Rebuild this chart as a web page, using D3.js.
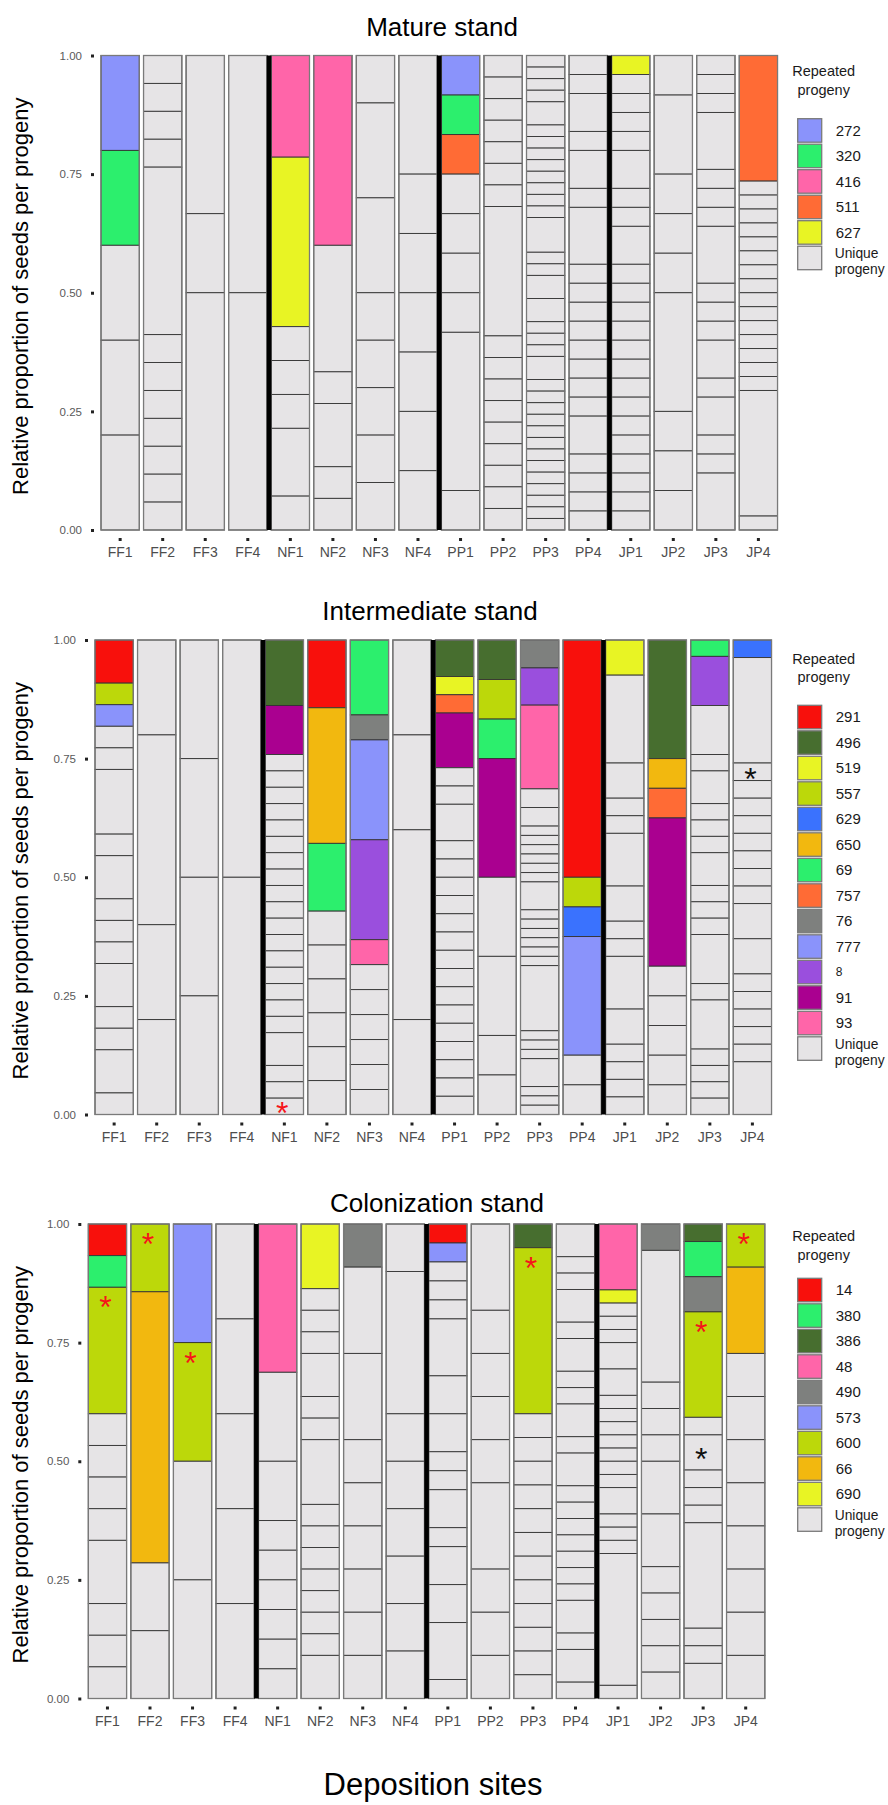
<!DOCTYPE html>
<html>
<head>
<meta charset="utf-8">
<script src="https://cdn.jsdelivr.net/npm/d3@7"></script>
<style>
  body { margin: 0; background: #fff; }
  svg text { font-family: "Liberation Sans", Arial, sans-serif; }
</style>
</head>
<body>
<div id="chart"></div>
<script>
// Deposition sites (x categories)
var sites = ["FF1","FF2","FF3","FF4","NF1","NF2","NF3","NF4","PP1","PP2","PP3","PP4","JP1","JP2","JP3","JP4"];
// first site of each forest type, a black bar is drawn before it
var groupStarts = ["NF1","PP1","JP1"];
var yTicks = [0, 0.25, 0.5, 0.75, 1];
var uniqueLabel = "Unique";
var uniqueFill = "#e6e4e6";

// ---- Mature stand ----
var matureKeys = ["272","320","416","511","627"];
var matureColors = ["#8a93fb","#2cef6d","#ff65a9","#ff6b35","#e8f424"];
// [site, progeny, seeds], top to bottom
var matureRepeated = [
  ["FF1","272",1],["FF1","320",1],
  ["NF1","416",3],["NF1","627",5],
  ["NF2","416",6],
  ["PP1","272",1],["PP1","320",1],["PP1","511",1],
  ["JP1","627",1],
  ["JP4","511",9]
];
// unique progeny blocks per site, top to bottom (seeds)
var matureUnique = [
  [1,1,1],
  [1,1,1,1,6,1,1,1,1,1,1,1],
  [2,1,3],
  [1,1],
  [1,1,1,2,1],
  [4,1,2,1,1],
  [1,2,2,1,1,1,1,1],
  [2,1,1,1,1,1,1],
  [1,1,1,1,4,1],
  [1,1,1,1,1,1,1,6,1,1,1,1,1,1,1,1,1],
  [1,1,1,1,2,1,1,1,1,1,1,1,1,3,1,1,2,2,1,1,1,2,1,1,1,1,1,1,1,1,1,1,1,1,1],
  [1,1,2,1,2,1,3,1,1,1,1,1,1,1,1,2,1,1,1,1],
  [1,1,1,1,2,1,1,2,1,1,1,1,1,1,1,1,1,1,1,1,1,1],
  [1,2,1,1,1,3,1,1,1],
  [1,1,1,3,1,1,1,3,1,1,1,2,1,2,1,1,3],
  [1,1,1,1,1,1,1,1,1,1,1,1,1,1,1,9,1]
];

// ---- Intermediate stand ----
var interKeys = ["291","496","519","557","629","650","69","757","76","777","8","91","93"];
var interColors = ["#f8100c","#476e2f","#e8f424","#bcd80a","#3a72fe","#f2b80f","#2cef6d","#ff6b35","#7e807e","#8a93fb","#9a4fdd","#aa0090","#ff65a9"];
var interRepeated = [
  ["FF1","291",2],["FF1","557",1],["FF1","777",1],
  ["NF1","496",4],["NF1","91",3],
  ["NF2","291",2],["NF2","650",4],["NF2","69",2],
  ["NF3","69",3],["NF3","76",1],["NF3","777",4],["NF3","8",4],["NF3","93",1],
  ["PP1","496",2],["PP1","519",1],["PP1","757",1],["PP1","91",3],
  ["PP2","496",1],["PP2","557",1],["PP2","69",1],["PP2","91",3],
  ["PP3","76",3],["PP3","8",4],["PP3","93",9],
  ["PP4","291",8],["PP4","557",1],["PP4","629",1],["PP4","777",4],
  ["JP1","519",2],
  ["JP2","496",4],["JP2","650",1],["JP2","757",1],["JP2","91",5],
  ["JP3","69",1],["JP3","8",3],
  ["JP4","629",1]
];
var interUnique = [
  [1,1,3,1,2,1,1,1,2,1,1,2,1],
  [1,2,1,1],
  [1,1,1,1],
  [1,1],
  [1,1,1,1,1,1,1,1,1,1,1,1,1,1,1,1,1,2,1,1,1],
  [1,1,1,1,1,1],
  [1,1,1,1,1,1],
  [1,1,2,1],
  [1,1,2,1,1,1,1,1,1,1,1,1,1,1,1,1,1,1],
  [2,2,1,1],
  [2,2,1,1,1,1,1,1,3,1,1,1,1,1,1,7,1,1,1,3,1,1,1],
  [1,1],
  [5,2,1,1,3,2,1,1,3,2,1,1,1,1],
  [1,1,1,1,1],
  [3,1,2,1,1,1,2,1,1,1,3,1,3,1,1,1,1],
  [6,1,1,1,1,1,1,1,1,2,2,1,1,1,1,1,3]
];

// ---- Colonization stand ----
var colonKeys = ["14","380","386","48","490","573","600","66","690"];
var colonColors = ["#f8100c","#2cef6d","#476e2f","#ff65a9","#7e807e","#8a93fb","#bcd80a","#f2b80f","#e8f424"];
var colonRepeated = [
  ["FF1","14",1],["FF1","380",1],["FF1","600",4],
  ["FF2","600",1],["FF2","66",4],
  ["FF3","573",1],["FF3","600",1],
  ["NF1","48",5],
  ["NF2","690",3],
  ["NF3","490",1],
  ["PP1","14",1],["PP1","573",1],
  ["PP3","386",1],["PP3","600",7],
  ["JP1","48",5],["JP1","690",1],
  ["JP2","490",1],
  ["JP3","386",1],["JP3","380",2],["JP3","490",2],["JP3","600",6],
  ["JP4","600",1],["JP4","66",2]
];
var colonUnique = [
  [1,1,1,1,2,1,1,1],
  [1,1],
  [1,1],
  [1,1,1,1,1],
  [3,2,1,1,1,1,1,1],
  [1,1,1,2,1,1,3,1,1,1,1,1,1,1,2],
  [2,2,1,1,1,1,1,1],
  [1,3,1,1,1,1,1,1],
  [1,1,1,3,2,2,1,1,2,1,2,2,3,1],
  [2,1,1,1,1,2,1,1,1],
  [1,1,1,1,1,1,1,1,1,1,1,1],
  [2,1,1,2,1,2,1,1,2,1,2,1,1,1,1,1,1,1,2,1,2,1],
  [1,1,1,2,2,1,1,1,1,1,1,1,2,1,1,1,10,1],
  [5,1,1,1,2,2,1,1,1,1,1],
  [1,2,1,1,1,6,1,1,2],
  [1,1,1,1,1,1,1,1]
];

// asterisks: [panel, site, block index from top (-1 = last), colour, place]
var asterisks = [
  ["intermediate","NF1",-1,"red","mid"],
  ["intermediate","JP4",2,"black","mid"],
  ["colonization","FF1",2,"red","top"],
  ["colonization","FF2",0,"red","top"],
  ["colonization","FF3",1,"red","top"],
  ["colonization","PP3",1,"red","top"],
  ["colonization","JP3",3,"red","top"],
  ["colonization","JP3",5,"black","mid"],
  ["colonization","JP4",0,"red","top"]
];

// Define SVG area dimensions
var svgWidth = 888;
var svgHeight = 1805;
var plotHeight = 474.5;
var bandStep = 42.55;

var svg = d3.select("#chart")
  .append("svg")
  .attr("width", svgWidth)
  .attr("height", svgHeight);

// layout of the three stacked panels
var panels = [
  {id: "mature", title: "Mature stand", keys: matureKeys, colors: matureColors,
   repeated: matureRepeated, unique: matureUnique,
   top: 55.5, left: 101, titleX: 442, titleY: -20, legTitle: 20.8, legKeys: 63.2},
  {id: "intermediate", title: "Intermediate stand", keys: interKeys, colors: interColors,
   repeated: interRepeated, unique: interUnique,
   top: 640, left: 95, titleX: 430, titleY: -20, legTitle: 23.6, legKeys: 65.3},
  {id: "colonization", title: "Colonization stand", keys: colonKeys, colors: colonColors,
   repeated: colonRepeated, unique: colonUnique,
   top: 1224, left: 88.3, titleX: 437, titleY: -12, legTitle: 17, legKeys: 54.3}
];

// Build the stacked blocks of one site (proportions from 1 down to 0)
function columnBlocks(site, i, p) {
  var blocks = p.repeated
    .filter(r => r[0] === site)
    .map(r => ({progeny: r[1], n: r[2]}))
    .concat(p.unique[i].map(n => ({progeny: uniqueLabel, n: n})));
  var total = d3.sum(blocks, b => b.n);
  var cum = 0;
  blocks.forEach(b => {
    b.top = 1 - cum / total;
    cum += b.n;
    b.bottom = 1 - cum / total;
  });
  return blocks;
}

panels.forEach(function(p) {
  var g = svg.append("g").attr("id", p.id);

  var y = d3.scaleLinear()
    .domain([0, 1])
    .range([p.top + plotHeight, p.top]);

  var x = d3.scaleBand()
    .domain(sites)
    .range([p.left - 0.05 * bandStep, p.left - 0.05 * bandStep + 16 * bandStep])
    .paddingInner(0.1)
    .paddingOuter(0.05);

  var color = d3.scaleOrdinal()
    .domain(p.keys.concat([uniqueLabel]))
    .range(p.colors.concat([uniqueFill]));

  // stacked columns
  var blocksBySite = {};
  sites.forEach(function(site, i) {
    var blocks = columnBlocks(site, i, p);
    blocksBySite[site] = blocks;
    var col = g.append("g").attr("class", "col");
    col.selectAll("rect")
      .data(blocks)
      .join("rect")
      .attr("x", x(site))
      .attr("width", x.bandwidth())
      .attr("y", d => y(d.top))
      .attr("height", d => y(d.bottom) - y(d.top))
      .attr("fill", d => color(d.progeny))
      .attr("stroke", "#333")
      .attr("stroke-width", 0.9);
    // outer border of the column
    col.append("rect")
      .attr("x", x(site))
      .attr("width", x.bandwidth())
      .attr("y", y(1))
      .attr("height", y(0) - y(1))
      .attr("fill", "none")
      .attr("stroke", "#7a7a7a")
      .attr("stroke-width", 1.3);
  });

  // black bars between forest types
  var gap = x.step() - x.bandwidth();
  g.selectAll(".sep")
    .data(groupStarts)
    .join("rect")
    .attr("class", "sep")
    .attr("x", d => x(d) - gap - 0.2)
    .attr("width", gap + 0.4)
    .attr("y", y(1))
    .attr("height", y(0) - y(1))
    .attr("fill", "#000");

  // asterisks
  asterisks.filter(a => a[0] === p.id).forEach(function(a) {
    var blocks = blocksBySite[a[1]];
    var b = a[2] < 0 ? blocks[blocks.length + a[2]] : blocks[a[2]];
    var cy = a[4] === "top" ? y(b.top) + 13 : (y(b.top) + y(b.bottom)) / 2;
    g.append("text")
      .attr("x", x(a[1]) + x.bandwidth() / 2 - 2)
      .attr("y", cy + 18)
      .attr("text-anchor", "middle")
      .style("font-size", "32px")
      .attr("fill", a[3] === "red" ? "#f5141a" : "#111")
      .text("*");
  });

  // y axis
  g.append("g")
    .attr("transform", `translate(${p.left - 7},0)`)
    .call(d3.axisLeft(y).tickValues(yTicks).tickFormat(d3.format(".2f")).tickSize(3).tickPadding(9))
    .attr("font-family", null)
    .attr("font-size", 11.5)
    .call(a => a.select(".domain").remove())
    .call(a => a.selectAll("line").attr("stroke", "#222").attr("stroke-width", 3))
    .call(a => a.selectAll("text").attr("fill", "#5a5a5a"));

  // x axis
  g.append("g")
    .attr("transform", `translate(0,${y(0) + 8})`)
    .call(d3.axisBottom(x).tickSize(3).tickPadding(6.3))
    .attr("font-family", null)
    .attr("font-size", 14)
    .call(a => a.select(".domain").remove())
    .call(a => a.selectAll("line").attr("stroke", "#222").attr("stroke-width", 3))
    .call(a => a.selectAll("text").attr("fill", "#4d4d4d"));

  // panel title
  g.append("text")
    .attr("x", p.titleX)
    .attr("y", p.top + p.titleY)
    .attr("text-anchor", "middle")
    .style("font-size", "26px")
    .attr("fill", "#000")
    .text(p.title);

  // y axis title
  g.append("text")
    .attr("transform", `translate(28,${p.top + plotHeight / 2 + 3.5}) rotate(-90)`)
    .attr("text-anchor", "middle")
    .style("font-size", "22px")
    .attr("fill", "#000")
    .text("Relative proportion of seeds per progeny");

  // legend
  var legX = 797.7;
  var keyH = 25.5;
  var leg = g.append("g")
    .attr("transform", `translate(${legX},${p.top + p.legKeys})`);
  leg.selectAll(".ltitle")
    .data(["Repeated", "progeny"])
    .join("text")
    .attr("class", "ltitle")
    .attr("x", 26)
    .attr("y", (d, i) => p.legTitle - p.legKeys + i * 18.5)
    .attr("text-anchor", "middle")
    .style("font-size", "14.5px")
    .attr("fill", "#1a1a1a")
    .text(d => d);

  var items = leg.selectAll(".item")
    .data(color.domain())
    .join("g")
    .attr("class", "item")
    .attr("transform", (d, i) => `translate(0,${i * keyH})`);
  items.append("rect")
    .attr("width", 24)
    .attr("height", 23.5)
    .attr("fill", d => color(d))
    .attr("stroke", "#7a7a7a")
    .attr("stroke-width", 1.3);
  items.filter(d => d !== uniqueLabel).append("text")
    .attr("x", 38)
    .attr("y", 11.75)
    .attr("dy", "0.35em")
    .style("font-size", d => d === "8" ? "12px" : "15px")
    .attr("fill", "#1a1a1a")
    .text(d => d);
  items.filter(d => d === uniqueLabel).selectAll("text")
    .data(["Unique", "progeny"])
    .join("text")
    .attr("x", 37)
    .attr("y", (d, i) => 12 + i * 16)
    .style("font-size", "13.8px")
    .attr("fill", "#1a1a1a")
    .text(d => d);
});

// shared x axis title
svg.append("text")
  .attr("x", 433)
  .attr("y", 1795)
  .attr("text-anchor", "middle")
  .style("font-size", "31px")
  .attr("fill", "#000")
  .text("Deposition sites");
</script>
</body>
</html>
